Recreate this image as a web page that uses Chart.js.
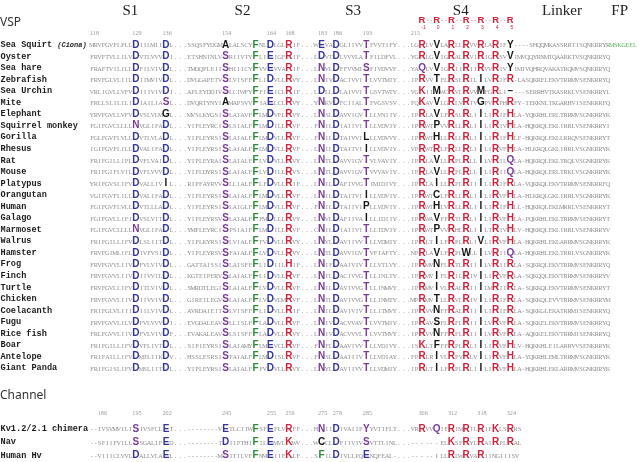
<!DOCTYPE html>
<html>
<head>
<meta charset="utf-8">
<script src="https://cdn.jsdelivr.net/npm/chart.js@4.4.1/dist/chart.umd.min.js"></script>
<style>
  html, body { margin: 0; padding: 0; background: #fff; }
  canvas { display: block; }
</style>
</head>
<body>
<canvas id="alignment" width="640" height="462"></canvas>
<script>
// {cX} = highlighted residue X drawn in colour c, "..." = gap, lowercase = green tag
const domainLabels = ["S1", "S2", "S3", "S4", "Linker", "FP"];
const domainCols = [10, 34, 56, 78, 101, 116];

const vspSpecies = ["Sea Squirt (Ciona)", "Oyster", "Sea hare", "Zebrafish", "Sea Urchin", "Mite",
  "Elephant", "Squirrel monkey", "Gorilla", "Rhesus", "Rat", "Mouse", "Platypus", "Orangutan",
  "Human", "Galago", "Marmoset", "Walrus", "Hamster", "Frog", "Finch", "Turtle", "Chicken",
  "Coelacanth", "Fugu", "Rice fish", "Boar", "Antelope", "Giant Panda"];

const vspSeqs = [
  "MRVFGVFLPLL{bD}IILMII{bD}L...SSQSFYDGM{kA}LALSCY{gF}NL{bD}LGL{rR}IF...W{bE}VA{bD}GLIIVV{pT}FVVTIFY...LG{rR}LV{kV}LA{rR}LL{rR}VV{rR}LA{rR}IF{kY}----SHQQMKASSRRTISQNKRRYRmskgeel",
  "FRVFTVLLILV{bD}VTLVVV{bD}I...ETSHNINLV{pS}RIIVTY{gF}LI{bE}IGF{rR}IF...L{bD}VT{bD}LVVVLA{pT}FILDFVL...YG{rR}LG{kV}IG{rR}AL{rR}VI{rR}IG{rR}SV{kV}IMVQQYRNMTQAARKTVSQNKRRYQ",
  "FRAFTVILILL{bD}FILVIV{bD}L...TMDQPLEII{pS}HIIICY{gF}VV{bE}VVA{rR}IF...L{pN}VL{bD}FFVVMI{pS}FIVDVVF...YA{pQ}LV{kV}IG{rR}II{rR}II{rR}VV{rR}IV{kY}IMIVQHRQVAKATRQMVSQNKRRYQ",
  "FRVFGLVLIIL{bD}IIMVIV{bD}L...DVGGAPETV{pS}LVISFF{gF}LI{bD}VLL{rR}VY...L{pN}IV{bD}ACIVVI{pT}LVVTMIY...IP{rR}VV{kT}FL{rR}SL{rR}IL{kI}LV{rR}IF{rR}-LASQKRELEKVTRRMVSENKRRYQ",
  "VRLIGVLLVFV{bD}IIIVIV{bD}I...APLEYDDIV{pS}LCIWFY{gF}FI{bE}ICL{rR}IF...L{bD}LL{bD}LAIVVI{pT}GSVTWTY...VG{rK}II{kM}WC{rR}VL{rR}VV{kM}FG{rR}LI{k-}---SERRHVTKASRKLVSENKRRYL",
  "FRLLSLILILI{bD}IAILIA{pS}L...DVQRTYNYI{kA}MAPSVV{gF}IA{bE}LCL{rR}VY...Y{pN}KV{bD}FCIIAL{pT}FVGSVSV...FQ{rK}AV{kV}LG{rR}LV{rR}IV{kG}PV{rR}PH{rR}FY-TEKKNLTKGARHVISENKRRFQ",
  "YRVFGVLLVFV{bD}VSLVLM{kG}L...MVSLKYGSI{pS}LAIAVF{gF}LM{bD}VFL{rR}VY...L{pN}SL{bD}AVVIGV{pT}LLVNIIY...IP{rR}LA{kV}LF{rR}SL{rR}LI{kI}LI{rR}IF{rH}LA-YQKRHLERLTRRMVSGNKRRYK",
  "FGIFGVCLLLL{pN}VGLIFA{bD}L...YIPLEYRCI{pS}LSIALF{gF}LM{bD}ILL{rR}VF...F{pN}IL{bD}IAIIVI{pT}LLVDVIY...IP{rR}WT{kP}VV{rR}LL{rR}LI{kI}LI{rR}IV{rH}LA-HQKRQLEKLIRRLVSENKRRYI",
  "FGLFGVFLVLL{bD}VTLVLA{bD}L...YIPLEYRSI{pS}LAIALF{gF}LM{bD}VLL{rR}VF...F{pN}IL{bD}TAIVVI{kL}LLVDVVY...IP{rR}WT{kH}LL{rR}LL{rR}LI{kI}LI{rR}IF{rH}LF-HQKRQLEKLLRRQVSENKRRYT",
  "IGIFGVFLILL{bD}VALIFA{bD}L...YIPLEYRSI{pS}LAIALF{gF}LM{bD}VLL{rR}VF...L{pN}IL{bD}TAITVI{kI}LLVDVIY...VP{rR}WT{rR}LF{rR}LL{rR}LI{kI}LI{rR}VF{rH}LA-HLKRQLGKLIRRLVSGNKRRYK",
  "FRIFGILLIPL{bD}VFLVAI{bD}L...YIPLEYRAI{pS}LAIALF{gF}LV{bD}VLL{rR}VY...L{pN}TL{bD}AVVIGV{pT}VLVAVIY...IP{rR}LA{kV}LL{rR}PL{rR}LL{kI}LV{rR}IL{pQ}LA-HQKRQLEKLTRQLVSGNKRRYK",
  "FRIFGIFLVIL{bD}VFLVVV{bD}L...YIPLDYRSI{pS}LAIALF{gF}LV{bD}ILL{rR}VS...L{pN}TL{bD}AVVIGV{pT}VVVAVIY...IP{rR}LA{kV}LL{rR}PL{rR}LL{kI}LI{rR}II{pQ}LA-HQKRQLERLTRKLVSGNKRRYK",
  "YRIFGVSLIFV{bD}VALLIV{kI}L...RIPFAYRVV{pS}LLIALF{gF}LF{bD}VLL{rR}IF...L{pN}IL{bD}AFIVVG{pT}IMIDIVY...IP{rR}LA{kI}LL{rR}PL{rR}II{kI}LI{rR}IF{rR}LA-VQKKQLEKVTRRMVSENKRRFQ",
  "VGIFGVFLILL{bD}VALIFA{bD}L...YIPLEYRSI{pS}LAIALF{gF}LM{bD}VLL{rR}VF...L{pN}IL{bD}TAITVI{kI}LLVDVIY...IP{rR}WT{kC}LF{rR}LL{rR}LI{kI}LI{rR}VF{rH}LA-HLKRQLGKLIRRLVSGNKRRYK",
  "FGIFGVFLVLL{bD}VTLLLA{bD}L...YIPLEYRSI{pS}LAIGLF{gF}LM{bD}VLL{rR}VF...F{pN}IL{bD}TAIIVI{kP}LLVDVIY...IP{rR}WT{kH}LV{rR}LL{rR}LI{kI}LI{rR}IF{rH}LL-HQKRQLEKLMRRLVSENKRRYT",
  "FGIFGVLLIFI{bD}VSLVIT{bD}L...YIPLEYRSV{pS}LAIALF{gF}FM{bD}LLL{rR}VY...L{pN}VL{bD}AFIIVA{kI}LLIDIIY...IP{rR}WA{kV}FF{rR}TL{rR}LI{kI}LI{rR}VF{rH}LA-PQKRHLEKLTRRMVSENKRRYT",
  "FGIFGVCLLLL{pN}VGLIFA{bD}L...YMPLEYRCI{pS}PSIAIF{gF}LM{bD}ILL{rR}VF...C{pN}IL{bD}IAIIVI{pT}LLTDVIY...IP{rR}WT{kP}VV{rR}HL{rR}LI{kI}LT{rR}IV{rH}LV-HQKRQLEKLIRRLVSENKRRYV",
  "FRIFGILLIFV{bD}LSLIIT{bD}L...YIPLKYRSI{pS}LVIALF{gF}FV{bD}VLL{rR}VY...L{pN}YL{bD}AVIIVV{pT}LLVDMIY...IP{rR}LT{kI}LF{rR}PL{rR}LI{kV}LI{rR}VF{rH}LA-HQKRHLEKLARRMVSGNKRRYK",
  "FRVFGIMLIFL{bD}IVFVSI{bD}L...YIPLEYRSV{pS}FAIALF{gF}LV{bD}VLL{rR}VY...L{pN}TL{bD}AVVIGV{pT}VFIAFTY...NP{rR}LA{kV}LF{rR}PL{kW}LL{kI}LV{rR}II{pQ}LA-HQKRHLEKLTRRLVSGNKRRYK",
  "FRVFGVVLIIV{bD}FVLVIV{bD}L...GATTAISSI{pS}LAISFF{gF}LI{bD}IIL{rH}IF...L{pN}IF{bD}AAIVIV{pT}LLVTLVY...IP{rR}MV{kN}FL{rR}TL{rR}II{kI}LV{rR}II{rR}LA-SQKRQLEKVTRRMVSENKRRYQ",
  "FRVFGVVLIIV{bD}IIVVIL{bD}L...KGTEIPERV{pS}LAIALF{gF}LI{bD}VLL{rR}VF...L{pN}IL{bD}ACIVVG{pT}LLINLTY...IP{rR}MV{kI}FL{rR}IL{rR}IV{kI}LI{rR}VF{rR}LA-SQKQQLEKVTRRMVSENKRRYV",
  "FRVFGVLLIFV{bD}ITLVIV{bD}L...SMRDTLEGI{pS}LAIALF{gF}LV{bD}VLL{rR}VF...L{pN}IL{bD}AVIVVG{pT}LLINMVY...IP{rR}MV{kI}VL{rR}AL{rR}II{kI}LM{rR}II{rR}LA-SQKKQLEKVTRRMVSENKRRYT",
  "FRVFGVVLIIV{bD}IIVVIV{bD}L...GIREILEGV{pS}LAIALF{gF}LV{bD}VLM{rR}VF...L{pN}TL{bD}AVIVVG{pT}LLINMTY...MP{rR}MV{kT}LL{rR}VL{rR}IV{kI}LI{rR}IF{rR}LA-SQKKQLEVVTRRMVSENKRRYM",
  "FRIFGLVLIII{bD}IILVIV{bD}L...AVRDAIEIT{pS}LVISFF{gF}LI{bD}VLL{rR}IF...L{pN}IL{bD}AVIVIV{pT}LLITMVY...IP{rR}VV{kN}FF{rR}AL{rR}II{kI}LI{rR}IF{rR}LA-SQKKGLEKATRRMISENKRRYQ",
  "FRVFGVVLILV{bD}FVLVVV{bD}I...EVGDALEAV{pS}LLISLF{gF}LA{bD}VLL{rR}VF...L{pN}IV{bD}ACVVAV{pT}LVVTMIY...IP{rR}AV{kS}FL{rR}FL{rR}II{kI}LV{rR}VF{rR}LA-SQKKELEKVTRRMVSENKRRYQ",
  "FRLFGVVLIIV{bD}FVLVIV{bD}F...EVAKALEAV{pS}LSISFF{gF}LA{bD}VLL{rR}VY...L{pN}IV{bD}ACVVVL{pT}LVVTMVY...IP{rR}VV{kN}FF{rR}FL{rR}II{kI}LV{rR}VF{rR}LA-AQKKELEKVTRRMISENKRRYQ",
  "FRIFGILLIFV{bD}VFLIVT{bD}L...SIPIEYRSI{pS}LAIAMY{gF}LM{bE}VCL{rR}VF...F{pN}FL{bD}AAVIVV{pT}LLVDIVY...IS{rK}LT{kF}FF{rR}PL{rR}LI{kI}LI{rR}VF{rH}LV-HQKKHLEILARRVVSENKRRYK",
  "FRIFAILLIFV{bD}MTLIIK{bD}V...HSSLESRSI{pS}FAIALF{gF}LM{bD}ISL{rR}VF...F{pN}SL{bD}AAIIIV{pT}LLVDIAY...FP{rR}LR{kI}VL{rR}PV{rR}LV{kI}LI{rR}VF{rH}LA-YQKRHLEMLTRRMVSGNKRRYK",
  "FRIFGISLIFV{bD}MSLIIT{bD}L...YIPLEYRSI{pS}LAIALF{gF}FV{bD}VLL{rR}VY...L{pN}YL{bD}AVIIVV{pT}LLVDMIY...IP{rR}LT{kI}LF{rR}PL{rR}LI{kI}LI{rR}VF{rH}LA-HQKRHLEKLARRMVSGNKRRYK"
];
const vspNumbers = ["118", "129", "136", "154", "164", "168", "183", "186", "193", "215"];
const vspNumberCols = [0, 11, 18, 30, 40, 44, 49, 52, 59, 68];

const gatingLabels = ["-1", "0", "1", "2", "3", "4", "5"];
const gatingCols = [70, 73, 76, 79, 82, 85, 88];

const channelSpecies = ["Kv1.2/2.1 chimera", "Nav", "Human Hv"];
const channelSeqs = [
  "--IVSVMVILI{pS}IVSFCL{bE}T...--------V{bE}TLCIIW{gF}SF{bE}FLV{rR}FF...H{pN}II{bD}IVAIIP{pY}YVTIFLT...VR{rR}VV{pQ}IF{rR}IM{rR}IL{rR}IF{rK}LS{rR}RS",
  "--SFIIFVILL{pS}SGALIF{bE}D...--------T{bD}IIPTHI{gF}IL{bE}MVL{rK}WV...W{kC}CL{bD}FIIVIV{pS}VTTLINL...--{x-}--{x-}EL{rK}SF{rR}YL{rR}AI{rR}PL{rR}AL",
  "--VIIICLVVL{bD}ALLVLA{bE}L...--------M{pS}ITILVF{gF}NM{bE}IIF{rK}LF...S{gF}IL{bD}IVLLPQ{bE}NQFEAL-...--{x-}--{xI}LL{rR}LW{rR}VA{rR}IINGIIISV"
];
const channelNumbers = ["186", "195", "202", "245", "255", "259", "275", "278", "285", "306", "312", "318", "324"];
const channelNumberCols = [2, 11, 18, 30, 40, 44, 49, 52, 59, 70, 76, 82, 88];

// layout
const CELL_PX = 3.85, BIG = 1.82, DOTS = 3.65, SEQ_X0 = 90;
const ROW_Y0 = 44, ROW_PX = 11.55;
const CHANNEL_ROW0 = 33.25, CHANNEL_STEP = 1.16;
const W = 640, H = 462;

const COLORS = { b: "#34349c", p: "#7a3a9a", g: "#2b8a3b", r: "#d3213c", k: "#141414" };
const SMALL_FONT = '6.4px "Liberation Serif"';
const BIG_FONT = 'bold 10px "Liberation Sans"';
const NAME_FONT = 'bold 8.6px "Liberation Mono"';

function tokenize(seq) {
  const toks = [];
  let i = 0;
  while (i < seq.length) {
    if (seq.startsWith("...", i)) { toks.push({ ch: ".", type: "dots" }); i += 3; }
    else if (seq[i] === "{") {
      const c = seq[i + 1];
      toks.push({ ch: seq[i + 2], type: c === "x" ? "hsmall" : "big", color: c });
      i += 4;
    } else {
      const c = seq[i];
      toks.push({ ch: c.toUpperCase(), type: "small", green: c !== c.toUpperCase() });
      i++;
    }
  }
  let x = 0;
  toks.forEach(t => {
    const w = t.type === "small" ? 1 : t.type === "dots" ? DOTS : BIG;
    t.left = x; t.x = x + w / 2; x += w;
  });
  return toks;
}

const rows = [];
vspSpecies.forEach((name, i) => rows.push({ name, y: i, toks: tokenize(vspSeqs[i]) }));
channelSpecies.forEach((name, i) => rows.push({ name, y: CHANNEL_ROW0 + i * CHANNEL_STEP, toks: tokenize(channelSeqs[i]) }));

const datasets = rows.map(r => ({
  label: r.name,
  data: r.toks.map(t => ({ x: t.x, y: r.y, tok: t })),
  pointRadius: 0,
  showLine: false
}));

function text(ctx, s, x, y, font, color, align) {
  ctx.font = font;
  ctx.fillStyle = color;
  ctx.textAlign = align || "center";
  ctx.fillText(s, x, y);
}

const alignmentText = {
  id: "alignmentText",
  afterDatasetsDraw(chart) {
    const ctx = chart.ctx, xs = chart.scales.x, ys = chart.scales.y;
    const ref = rows[0].toks;
    const px = u => xs.getPixelForValue(u);
    const py = v => ys.getPixelForValue(v);
    ctx.save();
    ctx.textBaseline = "alphabetic";

    // domain headers
    domainLabels.forEach((s, i) => text(ctx, s, px(ref[domainCols[i]].x), py(-2.94) + 5, '15px "Liberation Serif"', "#222"));

    // section titles
    text(ctx, "VSP", 0, py(-1.9) + 4.3, '12px "Noto Sans"', "#333", "left");
    text(ctx, "Channel", 0, py(30.39) + 4.3, '12px "Noto Sans"', "#333", "left");

    // residue numbers
    vspNumbers.forEach((s, i) => text(ctx, s, px(ref[vspNumberCols[i]].left), py(-0.95) + 2, '6.2px "Liberation Serif"', "#9a9a9a", "left"));
    const kv = rows[vspSpecies.length].toks;
    channelNumbers.forEach((s, i) => text(ctx, s, px(kv[channelNumberCols[i]].left), py(31.95) + 2, '6.2px "Liberation Serif"', "#9a9a9a", "left"));

    // S4 gating charge ladder
    gatingCols.forEach((c, i) => {
      const x = px(ref[c].x), y = py(-2.1) + 3.4;
      text(ctx, "R", x, y, 'bold 9.5px "Liberation Sans"', COLORS.r);
      text(ctx, gatingLabels[i], x + 1.5, y + 5.5, '5px "Liberation Sans"', COLORS.r);
      if (i < gatingCols.length - 1) {
        const xn = px(ref[gatingCols[i + 1]].x);
        text(ctx, "- -", (x + xn) / 2, y - 1, '6px "Liberation Sans"', "#d86a78");
      }
    });

    // species names and residues
    chart.data.datasets.forEach((ds, di) => {
      const meta = chart.getDatasetMeta(di);
      const yRow = meta.data.length ? meta.data[0].y : 0;
      const m = ds.label.match(/^(.*?)( \(.*\))?$/);
      text(ctx, m[1], 0.5, yRow + 3, NAME_FONT, "#1a1a1a", "left");
      if (m[2]) {
        ctx.font = NAME_FONT;
        const w = ctx.measureText(m[1] + " ").width;
        text(ctx, m[2].trim(), 0.5 + w, yRow + 3, 'italic bold 7px "Liberation Mono"', "#1a1a1a", "left");
      }
      meta.data.forEach((el, i) => {
        const t = ds.data[i].tok;
        if (t.type === "big") {
          const ch = t.ch === "-" ? "\u2013" : t.ch;
          text(ctx, ch, el.x, el.y + 3.6, BIG_FONT, COLORS[t.color]);
        } else if (t.type === "dots") {
          const d = DOTS * CELL_PX / 3;
          for (let k = -1; k <= 1; k++) text(ctx, ".", el.x + k * d, el.y + 3.4, SMALL_FONT, "#8e8e8e");
        } else {
          text(ctx, t.ch, el.x, el.y + 3.4, SMALL_FONT, t.green ? "#5fb85f" : "#8e8e8e");
        }
      });
    });
    ctx.restore();
  }
};

new Chart(document.getElementById("alignment"), {
  type: "scatter",
  data: { datasets },
  options: {
    responsive: false,
    animation: false,
    events: [],
    layout: { padding: 0 },
    plugins: { legend: { display: false }, tooltip: { enabled: false } },
    scales: {
      x: { type: "linear", display: false, min: -SEQ_X0 / CELL_PX, max: (W - SEQ_X0) / CELL_PX },
      y: { type: "linear", display: false, reverse: true, min: -ROW_Y0 / ROW_PX, max: (H - ROW_Y0) / ROW_PX }
    }
  },
  plugins: [alignmentText]
});
</script>
</body>
</html>
